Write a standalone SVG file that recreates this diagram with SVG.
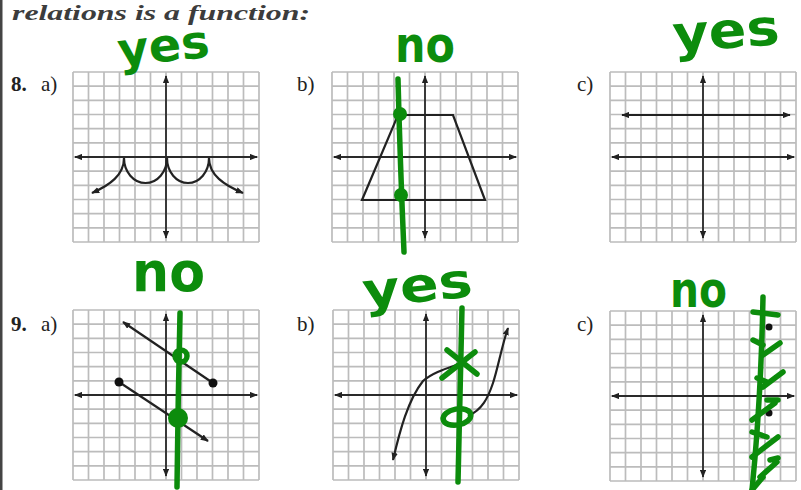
<svg xmlns="http://www.w3.org/2000/svg" xmlns:xlink="http://www.w3.org/1999/xlink" width="801" height="490" viewBox="0 0 801 490">
  <style>
    .hdr { font-family: "Liberation Serif", serif; font-weight: bold; font-style: italic; fill: #3c3c3c; }
    .num { font-family: "Liberation Serif", serif; font-weight: bold; fill: #222; font-size: 21px; }
    .lbl { font-family: "Liberation Serif", serif; fill: #222; font-size: 21px; }
    .grid { fill: none; stroke: #bcbcbc; stroke-width: 1.7; }
    .axis { fill: none; stroke: #2a2a2a; stroke-width: 1.8; marker-start: url(#arr); marker-end: url(#arr); }
    .curve { fill: none; stroke: #222; stroke-width: 2.2; }
    .dot { fill: #111; }
    .pen { fill: none; stroke: #0c8c0c; stroke-width: 5.5; stroke-linecap: round; stroke-linejoin: round; }
    .pdot { fill: #0c8c0c; }
    .hw { font-family: "DejaVu Sans", sans-serif; font-weight: bold; fill: #0c8c0c; }
  </style>
  <defs>
    <marker id="arr" viewBox="0 0 10 8" refX="9" refY="4" markerWidth="8" markerHeight="6.5" markerUnits="userSpaceOnUse" orient="auto-start-reverse">
      <path d="M0,0 L10,4 L0,8 Z" fill="#222"/>
    </marker>
    <g id="grid">
      <rect x="0" y="0" width="186" height="170" fill="#fff"/>
      <path class="grid" d="M0,0V170M15.5,0V170M31,0V170M46.5,0V170M62,0V170M77.5,0V170M93,0V170M108.5,0V170M124,0V170M139.5,0V170M155,0V170M170.5,0V170M186,0V170M0,0H186M0,14.17H186M0,28.33H186M0,42.5H186M0,56.67H186M0,70.83H186M0,85H186M0,99.17H186M0,113.33H186M0,127.5H186M0,141.67H186M0,155.83H186M0,170H186"/>
      <path class="axis" d="M2,85H184"/>
      <path class="axis" d="M93,4V166"/>
    </g>
  </defs>

  <rect x="0" y="0" width="801" height="490" fill="#fff"/>
  <rect x="0" y="0" width="2.5" height="490" fill="#444"/>

  <text class="hdr" x="12" y="19.5" font-size="21.5" textLength="298" lengthAdjust="spacingAndGlyphs">relations is a function:</text>

  <g id="graph-8a">
    <text class="num" x="11" y="91">8.</text>
    <text class="lbl" x="41" y="91">a)</text>
    <use xlink:href="#grid" href="#grid" transform="translate(73,72)"/>
    <path class="curve" marker-start="url(#arr)" marker-end="url(#arr)" d="M92,193 C110,185 124,175 124,158 A21.5,25 0 0 0 167,158 A21,25 0 0 0 209,158 C209,175 224,185 243,193"/>
    <text class="hw" x="118" y="62" font-size="46" textLength="92" lengthAdjust="spacingAndGlyphs" transform="rotate(-6 160 52)">yes</text>
  </g>

  <g id="graph-8b">
    <text class="lbl" x="297" y="91">b)</text>
    <use xlink:href="#grid" href="#grid" transform="translate(332,72)"/>
    <polygon class="curve" points="362,200 398,115 453,115 485,200"/>
    <path class="pen" d="M398,79 Q400,160 404,252"/>
    <circle class="pdot" cx="400" cy="114" r="7"/>
    <circle class="pdot" cx="401" cy="195" r="7"/>
    <text class="hw" x="395" y="62" font-size="50" textLength="60" lengthAdjust="spacingAndGlyphs">no</text>
  </g>

  <g id="graph-8c">
    <text class="lbl" x="577" y="91">c)</text>
    <use xlink:href="#grid" href="#grid" transform="translate(610,72)"/>
    <path class="curve" marker-start="url(#arr)" marker-end="url(#arr)" d="M622,115 H790"/>
    <text class="hw" x="673" y="48" font-size="50" textLength="107" lengthAdjust="spacingAndGlyphs" transform="rotate(-4 726 40)">yes</text>
  </g>

  <g id="graph-9a">
    <text class="num" x="11" y="331">9.</text>
    <text class="lbl" x="41" y="331">a)</text>
    <use xlink:href="#grid" href="#grid" transform="translate(73,310)"/>
    <path class="curve" marker-start="url(#arr)" d="M123,322 L213,383"/>
    <circle class="dot" cx="213" cy="383" r="4.5"/>
    <path class="curve" marker-end="url(#arr)" d="M119,382 L208,441"/>
    <circle class="dot" cx="119" cy="382" r="4.5"/>
    <path class="pen" d="M180,313 Q178,400 177,487"/>
    <circle class="pen" cx="181" cy="356" r="6" stroke-width="5"/>
    <circle class="pdot" cx="178" cy="418" r="10"/>
    <text class="hw" x="132" y="291" font-size="56" textLength="73" lengthAdjust="spacingAndGlyphs">no</text>
  </g>

  <g id="graph-9b">
    <text class="lbl" x="297" y="331">b)</text>
    <use xlink:href="#grid" href="#grid" transform="translate(333,310)"/>
    <path class="curve" marker-start="url(#arr)" d="M393,460 C400,430 408,400 423,381 C433,372 448,368 462,363"/>
    <path class="curve" marker-end="url(#arr)" d="M468,416 C482,410 488,398 493,383 S502,345 508,328"/>
    <path class="pen" d="M462,308 Q460,400 458,482"/>
    <path class="pen" d="M447,350 L477,374 M442,378 L475,352"/>
    <ellipse class="pen" cx="457" cy="417" rx="14" ry="8" stroke-width="5" transform="rotate(-10 457 417)"/>
    <text class="hw" x="363" y="302" font-size="48" textLength="110" lengthAdjust="spacingAndGlyphs" transform="rotate(-6 418 292)">yes</text>
  </g>

  <g id="graph-9c">
    <text class="lbl" x="577" y="331">c)</text>
    <use xlink:href="#grid" href="#grid" transform="translate(610,311)"/>
    <circle class="dot" cx="769" cy="327" r="3.5"/>
    <circle class="dot" cx="769" cy="413" r="3.5"/>
    <path class="pen" d="M763,297 Q761,400 752,490"/>
    <path class="pen" stroke-width="5" d="M753,312 L778,315 M753,340 L763,345 M763,355 L780,343 M757,378 L767,382 M763,387 L783,372 M767,400 L778,400 M752,420 L775,403 M752,432 L767,437 M752,457 L778,437 M770,460 L778,458 M760,477 L777,462 M752,490 L763,477"/>
    <text class="hw" x="670" y="307" font-size="50" textLength="57" lengthAdjust="spacingAndGlyphs">no</text>
  </g>
</svg>
